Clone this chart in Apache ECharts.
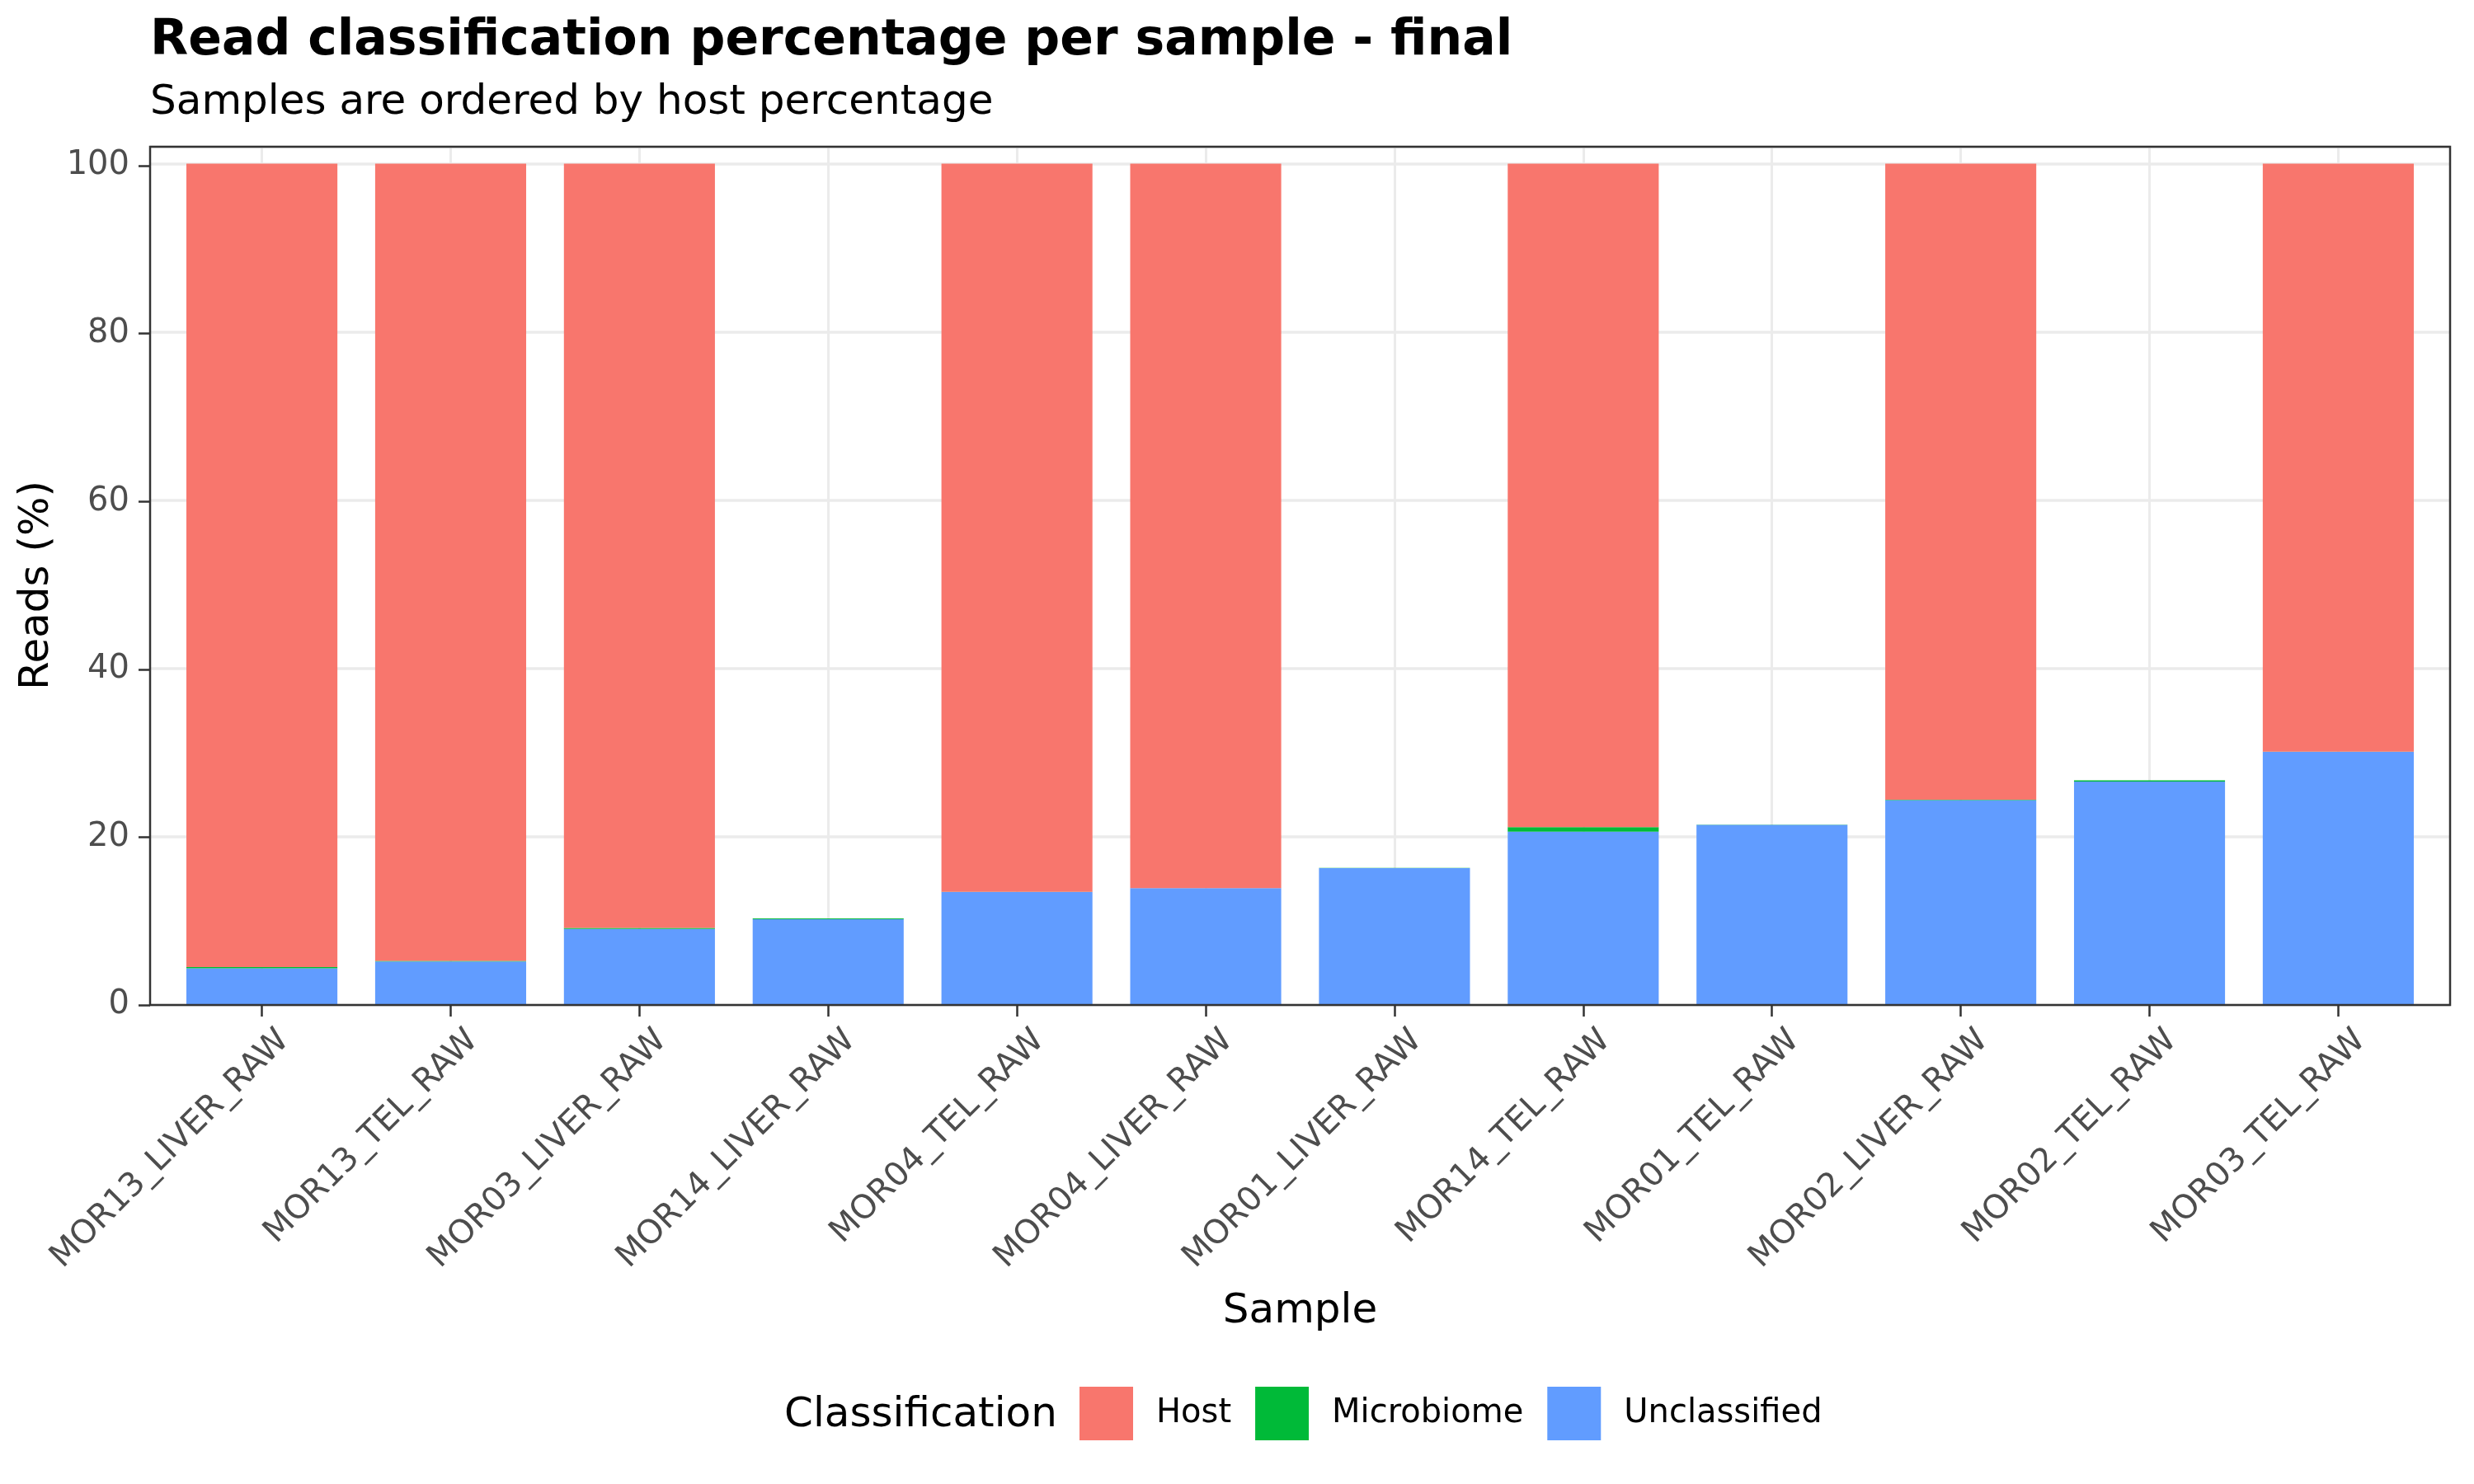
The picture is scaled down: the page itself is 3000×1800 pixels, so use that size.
<!DOCTYPE html>
<html>
<head>
<meta charset="utf-8">
<script src="https://cdn.jsdelivr.net/npm/echarts@6/dist/echarts.min.js"></script>
<style>
  html, body { margin: 0; padding: 0; background: #fff; }
  #chart { width: 3000px; height: 1800px; }
</style>
</head>
<body>
<div id="chart"></div>
<script>
// samples, ordered by host percentage
const samples = [
  'MOR13_LIVER_RAW', 'MOR13_TEL_RAW', 'MOR03_LIVER_RAW', 'MOR14_LIVER_RAW',
  'MOR04_TEL_RAW', 'MOR04_LIVER_RAW', 'MOR01_LIVER_RAW', 'MOR14_TEL_RAW',
  'MOR01_TEL_RAW', 'MOR02_LIVER_RAW', 'MOR02_TEL_RAW', 'MOR03_TEL_RAW'
]
const hostPct = [95.5, 94.75, 90.85, 0, 86.55, 86.1, 0, 78.85, 0, 75.6, 0, 69.9]
const microbiomePct = [0.15, 0.08, 0.1, 0.1, 0.03, 0.02, 0.02, 0.56, 0.02, 0.05, 0.15, 0.02]
const unclassifiedPct = [4.35, 5.17, 9.05, 10.18, 13.42, 13.88, 16.27, 20.59, 21.41, 24.35, 26.55, 30.08]
const classes = ['Host', 'Microbiome', 'Unclassified']
const yTicks = [0, 20, 40, 60, 80, 100]

const colors = {
    Host: '#F8766D',
    Microbiome: '#00BA38',
    Unclassified: '#619CFF'
}

const font = 'DejaVu Sans'
const band = (2971 - 182) / (samples.length + 1.2)

const myChart = echarts.init(document.getElementById('chart'), null, { renderer: 'canvas' })

const option = {
    backgroundColor: '#fff',
    animation: false,
    textStyle: { fontFamily: font },
    title: [{
        text: 'Read classification percentage per sample - final',
        subtext: 'Samples are ordered by host percentage',
        left: 182,
        top: 20,
        padding: 0,
        itemGap: 20,
        textStyle: { fontFamily: font, fontSize: 60, fontWeight: 'bold', color: '#000' },
        subtextStyle: { fontFamily: font, fontSize: 50, color: '#000' }
    }, {
        text: 'Classification',
        left: 951,
        top: 1692,
        padding: 0,
        textStyle: { fontFamily: font, fontSize: 50, fontWeight: 'normal', color: '#000' }
    }],
    legend: {
        data: classes,
        icon: 'rect',
        itemWidth: 65,
        itemHeight: 65,
        itemGap: 29,
        left: 1309,
        top: 1682,
        padding: 0,
        textStyle: { fontFamily: font, fontSize: 40, color: '#000', padding: [0, 0, 0, 23] }
    },
    grid: [
        // panel: border + horizontal grid lines
        { left: 182, right: 29, top: 178, bottom: 581, show: true, borderColor: '#333', borderWidth: 2.5, backgroundColor: 'transparent', z: 10 },
        // y labels and ticks (0..100)
        { left: 182, right: 29, top: 201, bottom: 581 },
        // bars
        { left: 182 + 0.1 * band, right: 29 + 0.1 * band, top: 178, bottom: 581 }
    ],
    xAxis: [
        { gridIndex: 0, type: 'value', show: false, min: 0, max: 1 },
        { gridIndex: 1, type: 'value', show: false, min: 0, max: 1 },
        {
            gridIndex: 2,
            type: 'category',
            data: samples,
            name: 'Sample',
            nameLocation: 'middle',
            nameGap: 318,
            nameTextStyle: { fontFamily: font, fontSize: 50, color: '#000' },
            axisLine: { show: false },
            axisTick: { show: true, alignWithLabel: true, length: 14, lineStyle: { color: '#333', width: 2.5 } },
            axisLabel: {
                rotate: 45, margin: 10, fontSize: 40, color: '#4D4D4D', fontFamily: font, interval: 0,
                verticalAlign: 'top', lineHeight: 76
            },
            splitLine: { show: true, alignWithLabel: true, lineStyle: { color: '#EBEBEB', width: 3 } }
        }
    ],
    yAxis: [
        {
            gridIndex: 0, type: 'value', min: 0, max: 102, interval: 20,
            axisLine: { show: false }, axisTick: { show: false }, axisLabel: { show: false },
            splitLine: { show: true, lineStyle: { color: '#EBEBEB', width: 3.5 } }
        },
        {
            gridIndex: 1, type: 'value', min: 0, max: 100, interval: 20,
            name: 'Reads (%)',
            nameLocation: 'middle',
            nameGap: 108,
            nameTextStyle: { fontFamily: font, fontSize: 50, color: '#000' },
            axisLine: { show: false },
            axisTick: { show: true, length: 14, lineStyle: { color: '#333', width: 2.5 } },
            axisLabel: {
                margin: 25, fontSize: 40, color: '#4D4D4D', fontFamily: font,
                formatter: v => (yTicks.includes(v) ? String(v) : '')
            },
            splitLine: { show: false }
        },
        { gridIndex: 2, type: 'value', min: 0, max: 102, show: false }
    ],
    // stacked from the bottom: Unclassified, Microbiome, Host
    series: [
        { name: 'Unclassified', data: unclassifiedPct },
        { name: 'Microbiome', data: microbiomePct },
        { name: 'Host', data: hostPct }
    ].map(s => ({
        name: s.name,
        type: 'bar',
        stack: 'reads',
        xAxisIndex: 2,
        yAxisIndex: 2,
        barWidth: '80%',
        itemStyle: { color: colors[s.name] },
        data: s.data
    }))
}

myChart.setOption(option)
</script>
</body>
</html>
